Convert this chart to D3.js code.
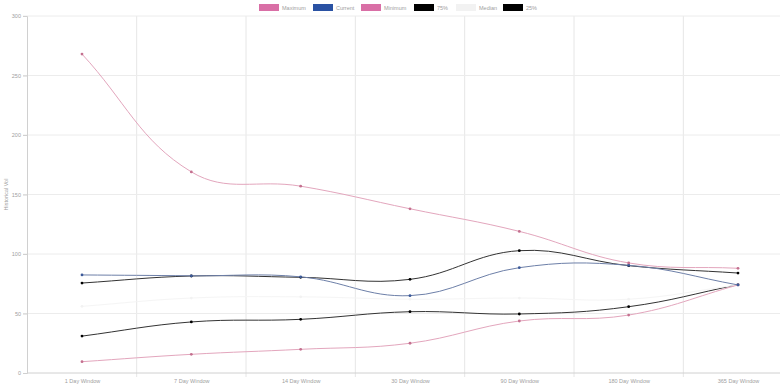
<!DOCTYPE html>
<html>
<head>
<meta charset="utf-8">
<script src="https://cdn.jsdelivr.net/npm/d3@7"></script>
<style>
  body { margin: 0; background: #fff; }
  svg { display: block; font-family: "Liberation Sans", Helvetica, Arial, sans-serif; }
</style>
</head>
<body>
<script>
//Data
const categories = ['1 Day Window', '7 Day Window', '14 Day Window', '30 Day Window', '90 Day Window', '180 Day Window', '365 Day Window']
const maximum = [268, 169, 157, 138, 119, 92.5, 88]
const current = [82.4, 81.7, 80.8, 65, 88.5, 90.5, 74]
const minimum = [9.5, 15.7, 19.9, 25, 43.7, 48.7, 74]
const p75 = [75.6, 81.5, 80.4, 78.7, 102.8, 90.2, 84]
const median = [56, 63, 64, 62, 63, 62, 74]
const p25 = [31, 42.9, 45.1, 51.5, 49.6, 55.7, 74.2]
const yTicks = [0, 50, 100, 150, 200, 250, 300]

const series = [
  { name: 'Maximum', values: maximum, line: '#e3a6bd', point: '#c4708f', box: '#d96fa6' },
  { name: 'Current', values: current, line: '#6d7fa8', point: '#3c5a9a', box: '#2a52a3' },
  { name: 'Minimum', values: minimum, line: '#e3a6bd', point: '#c4708f', box: '#d96fa6' },
  { name: '75%', values: p75, line: '#333', point: '#000', box: '#000' },
  { name: 'Median', values: median, line: '#f5f5f5', point: '#f2f2f2', box: '#f2f2f2' },
  { name: '25%', values: p25, line: '#333', point: '#000', box: '#000' }
]

const w = 782
const h = 390
const padL = 27, padR = 780, padT = 16, padB = 373

const svg = d3.select('body').append('svg').attr('width', w).attr('height', h)

//Scales
const xScale = d3.scalePoint().domain(categories).range([82, 738])
const yScale = d3.scaleLinear().domain([0, 300]).range([padB, padT])

//Grid
const step = xScale.step()
svg.append('g').selectAll('line')
  .data(categories.slice(1))
  .enter().append('line')
  .attr('x1', d => xScale(d) - step / 2).attr('x2', d => xScale(d) - step / 2)
  .attr('y1', padT).attr('y2', padB + 4)
  .attr('stroke', '#e6e6e6').attr('stroke-width', 1)

svg.append('g').selectAll('line')
  .data(yTicks.slice(1))
  .enter().append('line')
  .attr('x1', padL - 4).attr('x2', padR)
  .attr('y1', d => yScale(d)).attr('y2', d => yScale(d))
  .attr('stroke', '#ececec')

//Axes
const yAxis = d3.axisLeft(yScale).tickValues(yTicks).tickSize(4).tickPadding(2)
const gy = svg.append('g').attr('transform', 'translate(' + padL + ',0)').call(yAxis)
gy.select('.domain').attr('stroke', '#d0d0d0')
gy.selectAll('.tick line').attr('stroke', '#d0d0d0')
gy.selectAll('.tick text').attr('fill', '#a0a0a0').style('font-size', '5.5px')

const xAxis = d3.axisBottom(xScale).tickSize(0).tickPadding(6)
const gx = svg.append('g').attr('transform', 'translate(0,' + padB + ')').call(xAxis)
gx.select('.domain').remove()
gx.selectAll('.tick text').attr('fill', '#a0a0a0').style('font-size', '5.5px')
svg.append('line').attr('x1', padL).attr('x2', padR).attr('y1', padB).attr('y2', padB).attr('stroke', '#d0d0d0')

//Y title
svg.append('text')
  .attr('transform', 'translate(8,' + ((padT + padB) / 2) + ') rotate(-90)')
  .attr('text-anchor', 'middle')
  .attr('fill', '#a0a0a0')
  .style('font-size', '5.5px')
  .text('Historical Vol')

//Spline like Chart.js (tension 0.4, distance weighted)
function splinePath(values) {
  const pts = values.map((v, i) => [xScale(categories[i]), yScale(v)])
  const t = 0.4
  const cps = pts.map((p, i) => {
    const prev = pts[i - 1] || p
    const next = pts[i + 1] || p
    const d01 = Math.hypot(p[0] - prev[0], p[1] - prev[1])
    const d12 = Math.hypot(next[0] - p[0], next[1] - p[1])
    let s01 = d01 / (d01 + d12), s12 = d12 / (d01 + d12)
    if (isNaN(s01)) s01 = 0
    if (isNaN(s12)) s12 = 0
    const fa = t * s01, fb = t * s12
    return {
      prev: [p[0] - fa * (next[0] - prev[0]), p[1] - fa * (next[1] - prev[1])],
      next: [p[0] + fb * (next[0] - prev[0]), p[1] + fb * (next[1] - prev[1])]
    }
  })
  const path = d3.path()
  path.moveTo(pts[0][0], pts[0][1])
  for (let i = 1; i < pts.length; i++) {
    const a = cps[i - 1].next, b = cps[i].prev
    path.bezierCurveTo(a[0], a[1], b[0], b[1], pts[i][0], pts[i][1])
  }
  return path.toString()
}

series.slice().reverse().forEach(s => {
  svg.append('path')
    .attr('d', splinePath(s.values))
    .attr('fill', 'none')
    .attr('stroke', s.line)
    .attr('stroke-width', 1)
  svg.append('g').selectAll('circle')
    .data(s.values)
    .enter().append('circle')
    .attr('cx', (d, i) => xScale(categories[i]))
    .attr('cy', d => yScale(d))
    .attr('r', 1.4)
    .attr('fill', s.point)
})

//Legend
const legendX = [259, 313, 361, 414, 456, 503]
const lg = svg.append('g')
series.forEach((s, i) => {
  lg.append('rect')
    .attr('x', legendX[i]).attr('y', 4)
    .attr('width', 20).attr('height', 7)
    .attr('fill', s.box)
  lg.append('text')
    .attr('x', legendX[i] + 23).attr('y', 10)
    .attr('fill', '#a0a0a0')
    .style('font-size', '5.5px')
    .text(s.name)
})
</script>
</body>
</html>
